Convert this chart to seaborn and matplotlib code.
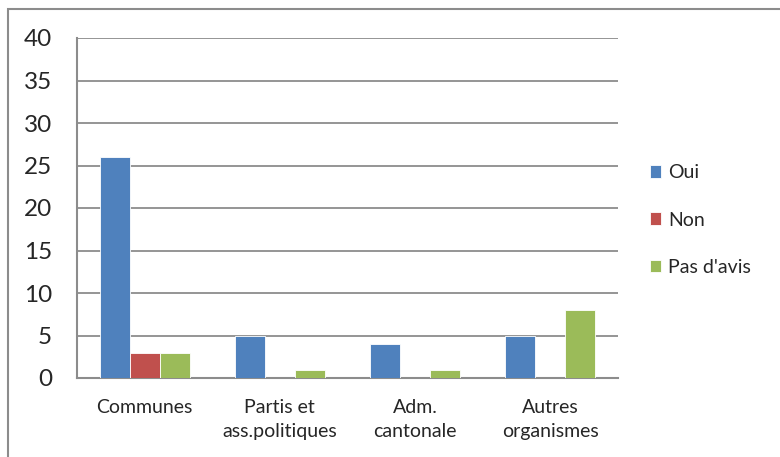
import pandas as pd
import matplotlib.pyplot as plt
import seaborn as sns
from matplotlib.patches import Rectangle

categories = ['Communes', 'Partis et\nass.politiques', 'Adm.\ncantonale', 'Autres\norganismes']
oui = [26, 5, 4, 5]
non = [3, 0, 0, 0]
pas_avis = [3, 1, 1, 8]
series = ['Oui', 'Non', "Pas d'avis"]
colors = ['#4F81BD', '#C0504D', '#9BBB59']

df = pd.DataFrame({
    'cat': categories * 3,
    'val': oui + non + pas_avis,
    'serie': [s for s in series for _ in categories],
})

sns.set_style('white')
plt.rcParams['font.family'] = ['Lato', 'DejaVu Sans']

fig = plt.figure(figsize=(7.8, 4.57), dpi=100)
ax = fig.add_axes([77 / 780, 1 - 378 / 457, (618 - 77) / 780, (378 - 38) / 457])

sns.barplot(data=df, x='cat', y='val', hue='serie', hue_order=series,
            palette=colors, width=0.667, saturation=1, ax=ax,
            edgecolor='white', linewidth=0.6, zorder=3)

ax.set_ylim(0, 40)
ax.set_yticks(range(0, 41, 5))
ax.set_xlim(-0.5, 3.5)
ax.grid(axis='y', color='#8c8c8c', linewidth=1.3, zorder=0)
ax.set_axisbelow(True)
for side in ['top', 'right']:
    ax.spines[side].set_visible(False)
for side in ['left', 'bottom']:
    ax.spines[side].set_color('#8c8c8c')
    ax.spines[side].set_linewidth(1.5)
ax.tick_params(axis='y', labelsize=17.5, length=0, pad=18)
ax.tick_params(axis='x', labelsize=14, length=0, pad=15)
ax.set_xlabel('')
ax.set_ylabel('')
for t in ax.get_xticklabels():
    t.set_linespacing(1.5)

ax.legend(loc='center left', bbox_to_anchor=(632 / 780, 1 - 220 / 457),
          bbox_transform=fig.transFigure, frameon=False, fontsize=14,
          handlelength=0.6, handleheight=0.6, handletextpad=0.35,
          labelspacing=1.55)

# outer chart frame (cut off at right and bottom)
fig.patches.append(Rectangle((8 / 780, -0.1), 1.2, 1 - 9 / 457 + 0.1,
                             transform=fig.transFigure, fill=False,
                             edgecolor='#8c8c8c', linewidth=1.5))

fig.savefig('out.png', dpi=100)
